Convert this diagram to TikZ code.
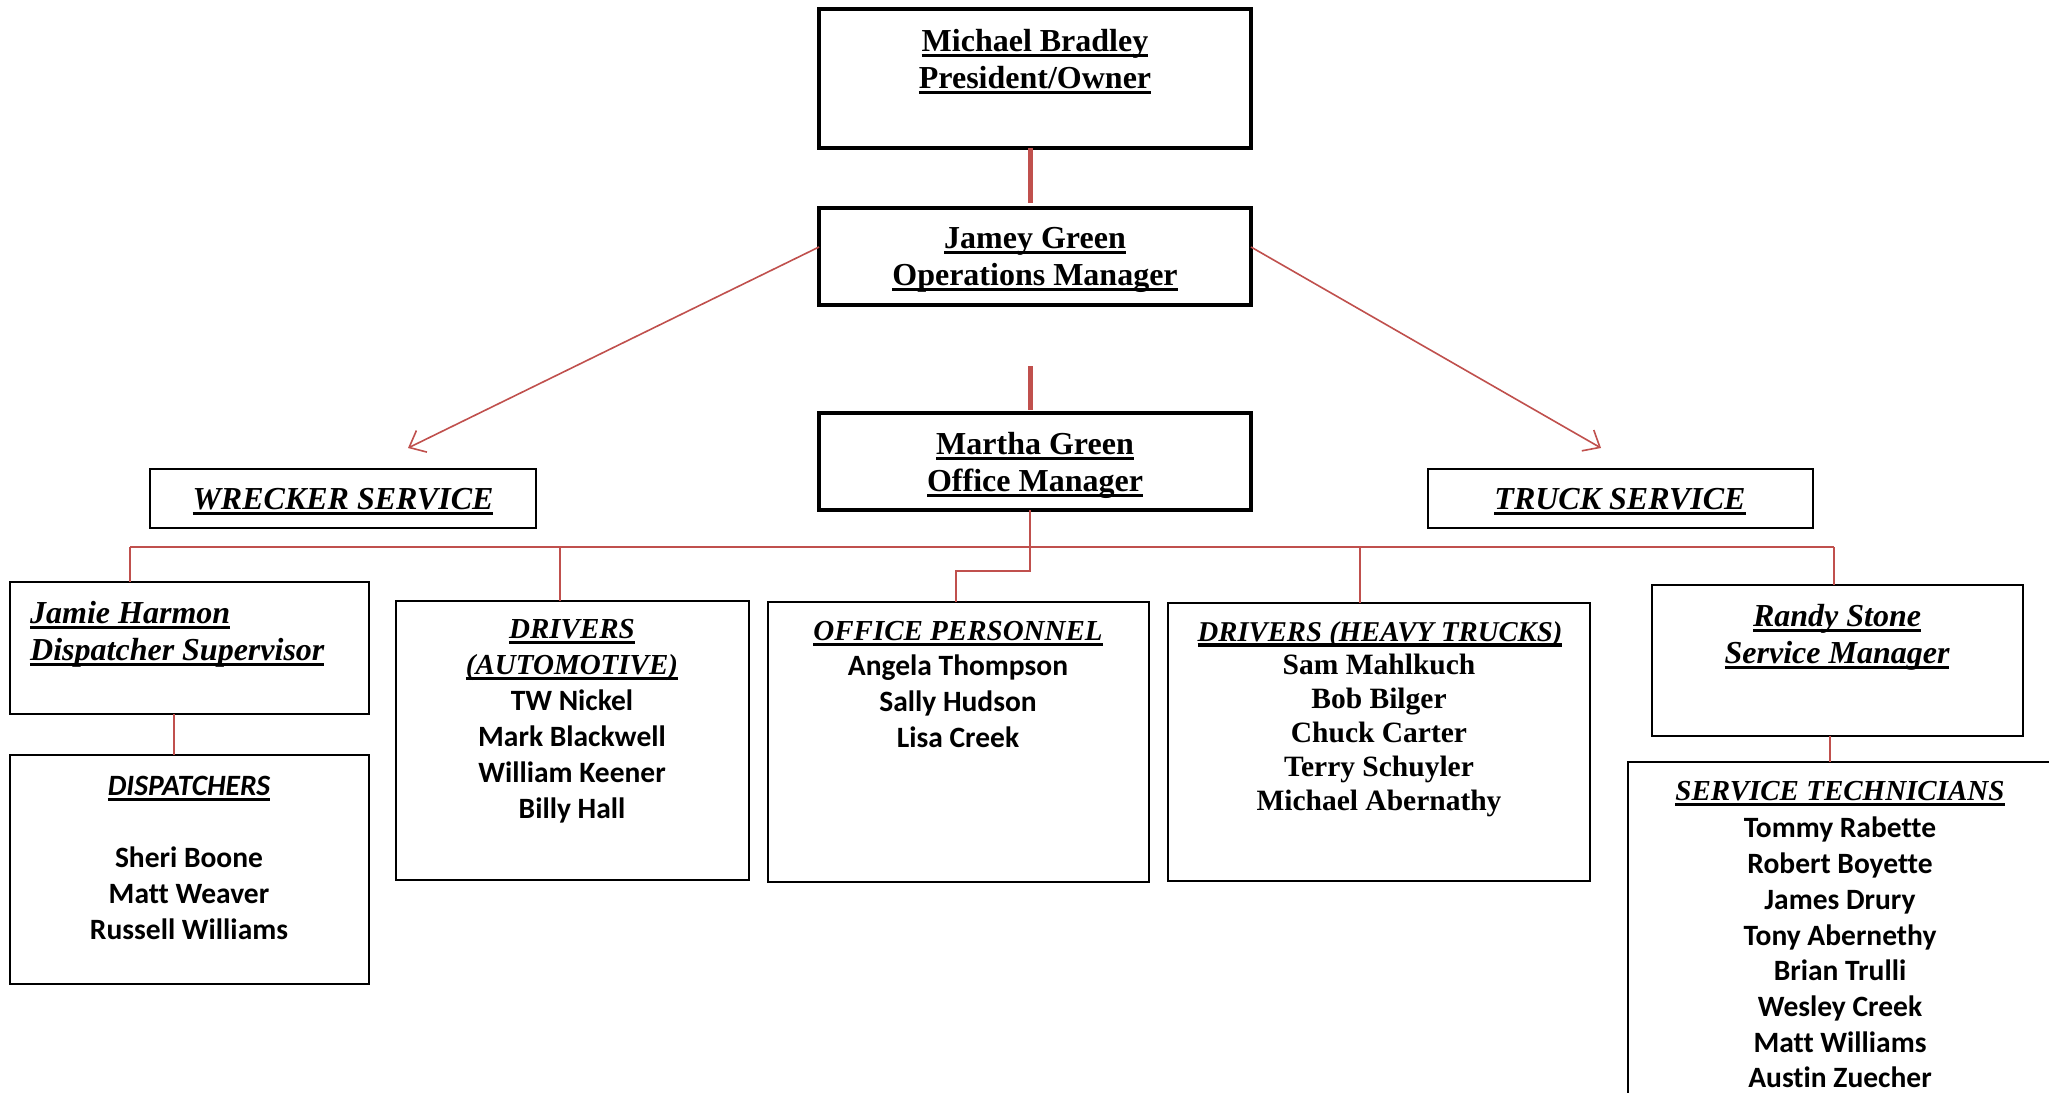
\documentclass[tikz,border=0pt]{standalone}
\usepackage{fontspec}
\setmainfont{Liberation Serif}[Ligatures={NoCommon}]
\newfontfamily\carl{Carlito}[Ligatures={NoCommon}]
\usetikzlibrary{arrows.meta}
\definecolor{lred}{HTML}{C0504D}
\newcommand\myul[1]{\begingroup\setbox0=\hbox{#1}\rlap{\rule[-5.5pt]{\wd0}{3.2pt}}\box0\endgroup}
\begin{document}
\begin{tikzpicture}[x=1pt,y=-1pt,
  bigbox/.style={draw=black, line width=3.5pt, inner sep=0pt, outer sep=0pt, anchor=north west},
  box/.style={draw=black, line width=2.5pt, inner sep=0pt, outer sep=0pt, anchor=north west},
  conn/.style={draw=lred, line width=1.6pt},
  thickconn/.style={draw=lred, line width=5pt},
  arr/.style={conn, -{Straight Barb[length=14pt,width=24pt,line width=1.6pt]}},
  ttl/.style={font=\fontsize{32}{37.5}\selectfont\bfseries, align=center, anchor=north, inner sep=0pt},
  ihead/.style={font=\fontsize{32}{37}\selectfont\bfseries\itshape, align=center, anchor=north, inner sep=0pt},
  shead/.style={font=\fontsize{29}{36}\selectfont\bfseries\itshape, align=center, anchor=north, inner sep=0pt},
  names/.style={font=\carl\fontsize{29.5}{36}\selectfont\bfseries, align=center, anchor=north, inner sep=0pt}
]
\useasboundingbox (0,0) rectangle (2049,1092);
\clip (0,0) rectangle (2049,1092);
\fill[white] (0,0) rectangle (2049,1092);

% boxes
\node[bigbox, minimum width=432pt, minimum height=139pt] (pres) at (819,9) {};
\node[bigbox, minimum width=432pt, minimum height=97pt] (ops) at (819,208) {};
\node[bigbox, minimum width=432pt, minimum height=97pt] (mgr) at (819,413) {};
\node[box, minimum width=386pt, minimum height=59pt] (wr) at (150,469) {};
\node[box, minimum width=385pt, minimum height=59pt] (tr) at (1428,469) {};
\node[box, minimum width=359pt, minimum height=132pt] (jamie) at (10,582) {};
\node[box, minimum width=359pt, minimum height=229pt] (disp) at (10,755) {};
\node[box, minimum width=353pt, minimum height=279pt] (auto) at (396,601) {};
\node[box, minimum width=381pt, minimum height=280pt] (offp) at (768,602) {};
\node[box, minimum width=422pt, minimum height=278pt] (heavy) at (1168,603) {};
\node[box, minimum width=371pt, minimum height=151pt] (randy) at (1652,585) {};
\node[box, line width=1.8pt, minimum width=430pt, minimum height=400pt] (tech) at (1628,762) {};

% coordinates
\coordinate (vx) at (1030,0);
\coordinate (gapA) at (1030,366);
\coordinate (wtip) at (408,448);
\coordinate (ttip) at (1601,448);
\coordinate (busL) at (130,547);
\coordinate (busR) at (1834,547);
\coordinate (dA) at (560,547);
\coordinate (dH) at (1360,547);
\coordinate (jog) at (956,571);
\coordinate (jd) at (174,0);
\coordinate (rt) at (1830,0);

% connectors
\draw[thickconn, shorten >=5pt] (pres.south -| vx) -- (ops.north -| vx);
\draw[thickconn, shorten >=3pt] (gapA) -- (mgr.north -| vx);
\draw[arr] ([yshift=9.5pt]ops.west) -- (wtip);
\draw[arr] ([yshift=9.5pt]ops.east) -- (ttip);
\draw[conn] (busL) -- (busR);
\draw[conn] (busL) -- (jamie.north -| busL);
\draw[conn] (dA) -- (dA |- auto.north);
\draw[conn] (dH) -- (dH |- heavy.north);
\draw[conn] (busR) -- (busR |- randy.north);
\draw[conn] (mgr.south -| vx) |- (jog) -- (jog |- offp.north);
\draw[conn] (jamie.south -| jd) -- (disp.north -| jd);
\draw[conn] (randy.south -| rt) -- (tech.north -| rt);

% texts
\node[ttl] (presT) at (1035,29) {\myul{Michael Bradley}\\\myul{President/Owner}};
\node[ttl] (opsT) at (1035,227) {\myul{Jamey Green}\\\myul{Operations Manager}};
\node[ttl] (mgrT) at (1035,432) {\myul{Martha Green}\\\myul{Office Manager}};
\node[ihead] (wrT) at (343,488) {\myul{WRECKER SERVICE}};
\node[ihead] (trT) at (1620,488) {\myul{TRUCK SERVICE}};
\node[ihead, align=left, anchor=north west] (jamieT) at (30,601) {\myul{Jamie Harmon}\\\myul{Dispatcher Supervisor}};
\node[ihead] (randyT) at (1837,604) {\myul{Randy Stone}\\\myul{Service Manager}};
\node[shead] (autoT) at (572,619) {\myul{DRIVERS}\\\myul{(AUTOMOTIVE)}};
\node[shead] (offT) at (958,621) {\myul{OFFICE PERSONNEL}};
\node[shead, font=\fontsize{28.7}{34}\selectfont\bfseries\itshape] (heavyT) at (1380,621) {\myul{DRIVERS (HEAVY TRUCKS)}};
\node[shead] (techT) at (1840,781) {\myul{SERVICE TECHNICIANS}};
\node[shead, font=\carl\fontsize{29.5}{36}\selectfont\bfseries\itshape] (dispT) at (189,776) {\myul{DISPATCHERS}};

\node[names] (dispN) at (189,847) {Sheri Boone\\Matt Weaver\\Russell Williams};
\node[names] (autoN) at (572,690) {TW Nickel\\Mark Blackwell\\William Keener\\Billy Hall};
\node[names] (offN) at (958,655) {Angela Thompson\\Sally Hudson\\Lisa Creek};
\node[names, font=\fontsize{29.5}{34}\selectfont\bfseries] (heavyN) at (1379,654) {Sam Mahlkuch\\Bob Bilger\\Chuck Carter\\Terry Schuyler\\Michael Abernathy};
\node[names, font=\carl\fontsize{29.5}{35.7}\selectfont\bfseries] (techN) at (1840,817) {Tommy Rabette\\Robert Boyette\\James Drury\\Tony Abernethy\\Brian Trulli\\Wesley Creek\\Matt Williams\\Austin Zuecher};
\end{tikzpicture}
\end{document}
